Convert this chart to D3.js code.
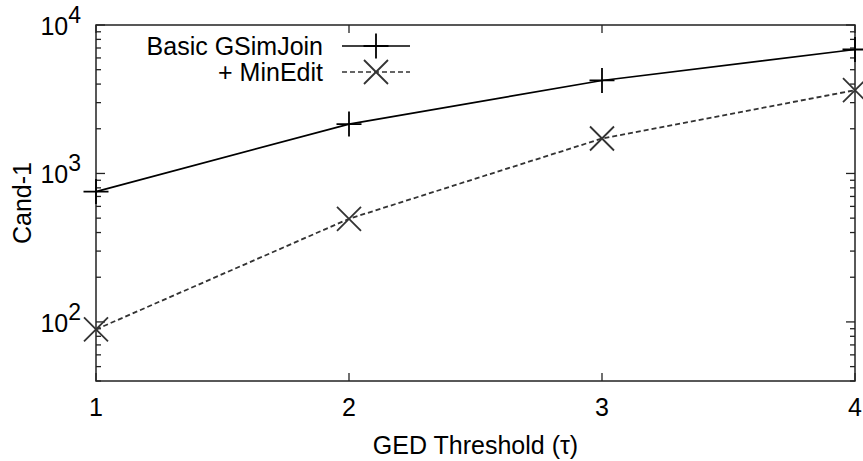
<!DOCTYPE html>
<html><head><meta charset="utf-8">
<script src="https://cdn.jsdelivr.net/npm/d3@7"></script>
<style>body{margin:0;background:#fff}svg{display:block}text{font-family:"Liberation Sans",Arial,sans-serif}</style>
</head><body><svg id="c" width="863" height="461"></svg>
<script>
const thresholds = [1, 2, 3, 4];
const basicGSimJoin = [755, 2150, 4230, 6840];
const minEdit = [89, 495, 1720, 3640];
const seriesNames = ["Basic GSimJoin", "+ MinEdit"];
const xTickLabels = ["1", "2", "3", "4"];
const yMajorExps = [2, 3, 4];

const svg = d3.select("#c");
const L = 96, R = 855, T = 25, B = 381;
const x = d3.scaleLinear().domain([1, 4]).range([L, R]);
const y = d3.scaleLog().domain([40, 10000]).range([B, T]);
const fs = 25, stroke = "#222";

// frame
svg.append("rect").attr("x", L).attr("y", T).attr("width", R - L).attr("height", B - T)
  .attr("fill", "none").attr("stroke", stroke).attr("stroke-width", 1.5);

// y ticks (major + minor), both sides, inward
const yTicks = [];
for (let e = 1; e <= 4; e++) for (let m = 1; m <= 9; m++) {
  const v = m * Math.pow(10, e);
  if (v >= 40 && v <= 10000) yTicks.push({v, major: m === 1});
}
yTicks.forEach(t => {
  const len = t.major ? 9 : 5;
  svg.append("line").attr("x1", L).attr("x2", L + len).attr("y1", y(t.v)).attr("y2", y(t.v)).attr("stroke", stroke).attr("stroke-width", 1.3);
  svg.append("line").attr("x1", R).attr("x2", R - len).attr("y1", y(t.v)).attr("y2", y(t.v)).attr("stroke", stroke).attr("stroke-width", 1.3);
});
yMajorExps.forEach(e => {
  const t = svg.append("text").attr("x", L - 15).attr("y", y(Math.pow(10, e)) + 10)
    .attr("text-anchor", "end").attr("font-size", fs).attr("fill", "#000");
  t.append("tspan").text("10");
  t.append("tspan").attr("dy", -12).attr("font-size", 23).text(e);
});

// x ticks
thresholds.forEach((v, i) => {
  svg.append("line").attr("x1", x(v)).attr("x2", x(v)).attr("y1", B).attr("y2", B - 8).attr("stroke", stroke).attr("stroke-width", 1.3);
  svg.append("line").attr("x1", x(v)).attr("x2", x(v)).attr("y1", T).attr("y2", T + 8).attr("stroke", stroke).attr("stroke-width", 1.3);
  svg.append("text").attr("x", x(v)).attr("y", 416).attr("text-anchor", "middle").attr("font-size", fs).text(xTickLabels[i]);
});

// axis titles
svg.append("text").attr("x", (L + R) / 2).attr("y", 454).attr("text-anchor", "middle").attr("font-size", fs).text("GED Threshold (τ)");
svg.append("text").attr("transform", `translate(31,${(T + B) / 2}) rotate(-90)`).attr("text-anchor", "middle").attr("font-size", fs).text("Cand-1");

// lines
const line = d3.line().x((d, i) => x(thresholds[i])).y(d => y(d));
svg.append("path").datum(basicGSimJoin).attr("d", line).attr("fill", "none").attr("stroke", "#000").attr("stroke-width", 1.7);
svg.append("path").datum(minEdit).attr("d", line).attr("fill", "none").attr("stroke", "#333").attr("stroke-width", 1.8).attr("stroke-dasharray", "5,3");

function plus(g, cx, cy, s, col) {
  g.append("path").attr("d", `M${cx - s},${cy}H${cx + s}M${cx},${cy - s}V${cy + s}`).attr("stroke", col).attr("stroke-width", 1.8).attr("fill", "none");
}
function cross(g, cx, cy, s, col) {
  g.append("path").attr("d", `M${cx - s},${cy - s}L${cx + s},${cy + s}M${cx - s},${cy + s}L${cx + s},${cy - s}`).attr("stroke", col).attr("stroke-width", 1.8).attr("fill", "none");
}
basicGSimJoin.forEach((v, i) => plus(svg, x(thresholds[i]), y(v), 12.5, "#000"));
minEdit.forEach((v, i) => cross(svg, x(thresholds[i]), y(v), 12, "#333"));

// legend
const legY = [46, 72];
seriesNames.forEach((n, i) => {
  svg.append("text").attr("x", 323).attr("y", legY[i] + 9).attr("text-anchor", "end").attr("font-size", fs).text(n);
  const ln = svg.append("line").attr("x1", 342).attr("x2", 410).attr("y1", legY[i]).attr("y2", legY[i]).attr("stroke-width", 1.6);
  if (i === 0) { ln.attr("stroke", "#000"); plus(svg, 376, legY[i], 12.5, "#000"); }
  else { ln.attr("stroke", "#333").attr("stroke-dasharray", "5,3"); cross(svg, 376, legY[i], 12, "#333"); }
});
</script></body></html>
